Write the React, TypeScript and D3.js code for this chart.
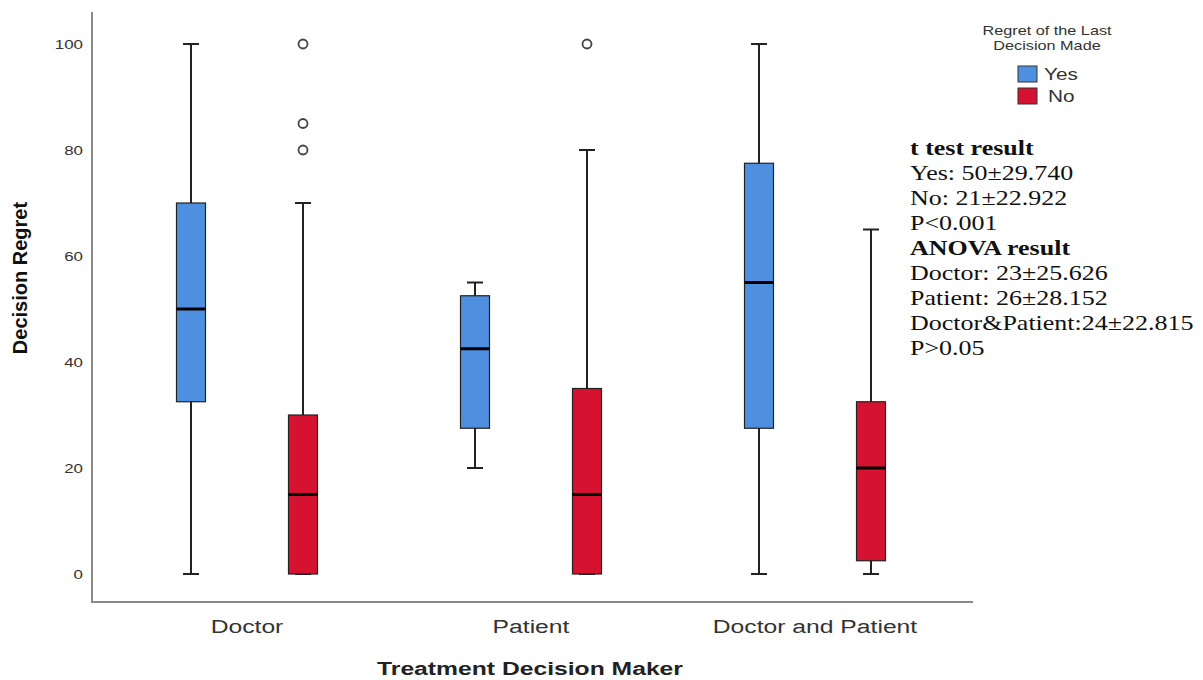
import React from "react";
import * as d3 from "d3";

// decision makers on the x axis
const makers = ["Doctor", "Patient", "Doctor and Patient"];
const groups = ["Yes", "No"];
const groupColors = ["#4f8fdf", "#d51331"];

// box stats per maker for "Yes" then "No": [min, q1, median, q3, max]
const yesStats = [
  [0, 32.5, 50, 70, 100],
  [20, 27.5, 42.5, 52.5, 55],
  [0, 27.5, 55, 77.5, 100],
];
const noStats = [
  [0, 0, 15, 30, 70],
  [0, 0, 15, 35, 80],
  [0, 2.5, 20, 32.5, 65],
];
const noOutliers = [[80, 85, 100], [100], []];

const yTicks = [0, 20, 40, 60, 80, 100];

const statLines = [
  { text: "t test result", bold: true },
  { text: "Yes: 50±29.740", bold: false },
  { text: "No: 21±22.922", bold: false },
  { text: "P<0.001", bold: false },
  { text: "ANOVA result", bold: true },
  { text: "Doctor: 23±25.626", bold: false },
  { text: "Patient: 26±28.152", bold: false },
  { text: "Doctor&Patient:24±22.815", bold: false },
  { text: "P>0.05", bold: false },
];

const W = 1203;
const H = 680;
const SANS = "Liberation Sans, Arial";
const STRETCH = 1.3; // the reference's text is wider than it is tall

// text drawn at (x,y) and stretched horizontally
const Txt = (props: any) => {
  const { x, y, children, ...rest } = props;
  return (
    <text transform={`translate(${x},${y}) scale(${STRETCH},1)`} {...rest}>
      {children}
    </text>
  );
};

export default function App() {
  const y = d3.scaleLinear().domain([0, 100]).range([574, 44]);
  const x = d3.scaleBand().domain(makers).range([105, 957]);
  const inner = d3.scaleBand().domain(groups).range([-112, 112]);
  const boxW = 29;

  const boxes = makers.flatMap((m, i) =>
    groups.map((g, j) => ({
      maker: m,
      group: g,
      color: groupColors[j],
      stats: j === 0 ? yesStats[i] : noStats[i],
      outliers: j === 0 ? [] : noOutliers[i],
      cx: (x(m) as number) + x.bandwidth() / 2 + (inner(g) as number) + inner.bandwidth() / 2,
    }))
  );

  return (
    <svg width={W} height={H} style={{ position: "absolute", left: 0, top: 0, background: "#fff" }}>
      {/* axes frame */}
      <line x1={92} x2={92} y1={12} y2={603} stroke="#8a8a8a" strokeWidth={2} />
      <line x1={92} x2={973} y1={602} y2={602} stroke="#8a8a8a" strokeWidth={2} />

      {yTicks.map((t) => (
        <Txt key={t} x={83} y={y(t)} dy="0.35em" textAnchor="end" fontFamily={SANS} fontSize={13} fill="#333">
          {t}
        </Txt>
      ))}
      <text
        transform={`translate(27,278) rotate(-90)`}
        textAnchor="middle"
        fontFamily={SANS}
        fontWeight="bold"
        fontSize={20}
        fill="#111"
      >
        Decision Regret
      </text>

      {makers.map((m) => (
        <Txt key={m} x={(x(m) as number) + x.bandwidth() / 2} y={633} textAnchor="middle" fontFamily={SANS} fontSize={19} fill="#333">
          {m}
        </Txt>
      ))}
      <Txt x={530} y={675} textAnchor="middle" fontFamily={SANS} fontWeight="bold" fontSize={19} fill="#222">
        Treatment Decision Maker
      </Txt>

      {boxes.map((b, k) => {
        const [mn, q1, md, q3, mx] = b.stats;
        return (
          <g key={k}>
            <line x1={b.cx} x2={b.cx} y1={y(mx)} y2={y(mn)} stroke="#222" strokeWidth={2} />
            <line x1={b.cx - 8} x2={b.cx + 8} y1={y(mx)} y2={y(mx)} stroke="#222" strokeWidth={2} />
            <line x1={b.cx - 8} x2={b.cx + 8} y1={y(mn)} y2={y(mn)} stroke="#222" strokeWidth={2} />
            <rect
              x={b.cx - boxW / 2}
              y={y(q3)}
              width={boxW}
              height={Math.max(0, y(q1) - y(q3))}
              fill={b.color}
              stroke="#222"
              strokeWidth={1.2}
            />
            <line x1={b.cx - boxW / 2} x2={b.cx + boxW / 2} y1={y(md)} y2={y(md)} stroke="#000" strokeWidth={3} />
            {b.outliers.map((o, n) => (
              <circle key={n} cx={b.cx} cy={y(o)} r={4.5} fill="#fff" stroke="#444" strokeWidth={1.8} />
            ))}
          </g>
        );
      })}

      {/* legend */}
      <Txt x={1047} y={35} textAnchor="middle" fontFamily={SANS} fontSize={12.5} fill="#333">
        Regret of the Last
      </Txt>
      <Txt x={1047} y={50} textAnchor="middle" fontFamily={SANS} fontSize={12.5} fill="#333">
        Decision Made
      </Txt>
      {groups.map((g, j) => (
        <g key={g}>
          <rect x={1018} y={66 + j * 22} width={19} height={16} fill={groupColors[j]} stroke="#333" strokeWidth={1} />
          <Txt x={j === 0 ? 1044 : 1048} y={74 + j * 22} dy="0.35em" fontFamily={SANS} fontSize={16} fill="#333">
            {g}
          </Txt>
        </g>
      ))}

      {/* statistics note */}
      {statLines.map((l, i) => (
        <Txt
          key={i}
          x={910}
          y={155 + i * 25}
          fontFamily="Liberation Serif, Times New Roman"
          fontWeight={l.bold ? "bold" : "normal"}
          fontSize={20}
          fill="#111"
        >
          {l.text}
        </Txt>
      ))}
    </svg>
  );
}
